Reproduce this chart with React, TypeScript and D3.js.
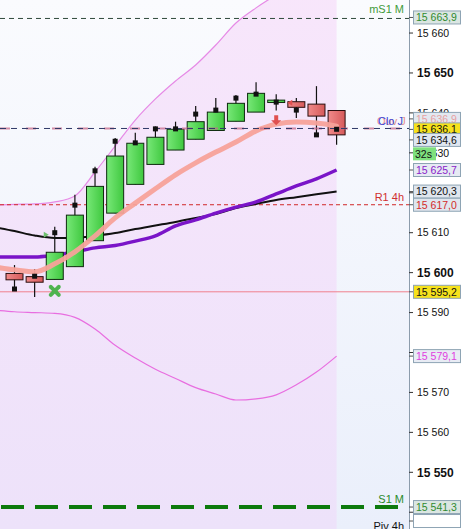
import React from "react";
import * as d3 from "d3";

const W = 462;
const H = 529;
const AXIS_X = 409;
const FONT = "'Liberation Sans', Arial, sans-serif";

// Heikin-Ashi style candles
const opens = [15599.8, 15599.0, 15598.3, 15601.5, 15608.0, 15614.9, 15622.1, 15627.1, 15630.7, 15633.4, 15635.6, 15637.9, 15640.2, 15642.6, 15642.8, 15642.2, 15640.6];
const closes = [15598.2, 15597.6, 15605.1, 15614.4, 15621.6, 15629.2, 15632.4, 15633.9, 15635.9, 15637.8, 15640.2, 15642.4, 15644.9, 15643.2, 15641.4, 15639.2, 15634.5];
const highs = [15601.9, 15600.9, 15611.5, 15619.5, 15626.5, 15633.7, 15635.0, 15636.6, 15637.8, 15641.7, 15643.7, 15644.5, 15647.7, 15644.7, 15643.7, 15646.7, 15640.6];
const lows = [15595.9, 15593.9, 15598.3, 15601.5, 15608.0, 15614.9, 15622.1, 15627.1, 15630.7, 15633.4, 15635.6, 15637.9, 15640.2, 15640.6, 15638.7, 15634.5, 15632.0];
const realCloses = [15595.9, 15599.1, 15610.0, 15616.9, 15625.5, 15632.9, 15632.5, 15636.0, 15636.0, 15639.7, 15640.7, 15643.7, 15644.7, 15642.7, 15640.7, 15634.5, 15635.9];

// indicator lines, first value is the bar before the first visible candle
const upperBand = [15616.9, 15617.1, 15617.2, 15617.7, 15619.2, 15625.2, 15631.7, 15638.2, 15643.5, 15648.0, 15652.0, 15657.0, 15662.5, 15666.3, 15669.5, 15672.0, 15674.0, 15675.8];
const lowerBand = [15590.6, 15590.2, 15590.0, 15589.8, 15588.8, 15585.9, 15581.8, 15578.6, 15575.8, 15573.5, 15571.2, 15569.6, 15568.1, 15568.4, 15569.4, 15571.9, 15575.1, 15579.1];
const maFast = [15601.4, 15600.7, 15600.2, 15602.2, 15605.2, 15609.2, 15613.7, 15617.4, 15621.0, 15624.5, 15627.5, 15630.2, 15632.7, 15635.5, 15637.2, 15637.7, 15637.5, 15636.7];
const maMid = [15603.9, 15603.9, 15603.9, 15604.4, 15605.2, 15606.2, 15606.8, 15607.9, 15609.2, 15611.7, 15613.2, 15614.9, 15616.4, 15617.7, 15619.7, 15621.7, 15623.5, 15625.7];
const maSlow = [15611.4, 15610.4, 15609.3, 15608.7, 15608.7, 15609.2, 15609.9, 15610.9, 15611.8, 15612.7, 15613.7, 15614.7, 15616.2, 15617.2, 15618.2, 15618.9, 15619.6, 15620.3];
const lineIdx = d3.range(-1, 17);

const priceTicks = d3.range(15540, 15661, 10);

// levels
const mS1M = 15663.9;
const openDay = 15636.9;
const closeDay = 15636.1;
const lastPrice = 15634.6;
const r14h = 15617.0;
const pinkLevel = 15595.2;
const s1M = 15541.3;
const piv4h = 15537.8;
const timerTick = 15630;

const labelPrices = [mS1M, openDay, closeDay, lastPrice, 15625.7, 15620.3, r14h, pinkLevel, 15579.1, s1M, piv4h];
const labelKinds = ["green", "open", "yellow", "last", "purple", "black", "red", "yellow", "magenta", "green", "blank"];

const KIND_STYLE: Record<string, { bg: string; fg: string; stroke: string }> = {
  green: { bg: "#dbe6e2", fg: "#2f8a2f", stroke: "#8ea4b4" },
  open: { bg: "#e2e8f0", fg: "#e8a0a0", stroke: "#8ea4b4" },
  yellow: { bg: "#f6e21c", fg: "#111", stroke: "#8ea4b4" },
  last: { bg: "#dfe6f0", fg: "#111", stroke: "#8ea4b4" },
  purple: { bg: "#e6eaf3", fg: "#8a22c8", stroke: "#8ea4b4" },
  black: { bg: "#e0e6ee", fg: "#111", stroke: "#8ea4b4" },
  red: { bg: "#e0e6ee", fg: "#d42a2a", stroke: "#8ea4b4" },
  magenta: { bg: "#e8ecf4", fg: "#e040e0", stroke: "#8ea4b4" },
  blank: { bg: "#ffffff", fg: "none", stroke: "#8ea4b4" },
};

const fmtPrice = (v: number, dec: number) => {
  const s = v.toFixed(dec).split(".");
  const int = s[0].replace(/\B(?=(\d{3})+(?!\d))/g, " ");
  return dec ? `${int},${s[1]}` : int;
};

const y = d3.scaleLinear().domain([15550, 15610]).range([472.3, 232.7]);
const x = d3.scaleLinear().domain([0, 16]).range([14.5, 336.6]);

const LABEL_H = 13;
const STACK = 10.5;

// spread overlapping labels around their mean, like the platform does
function layoutLabels(prices: number[]) {
  const items = prices.map((p, i) => ({ i, y: y(p) })).sort((a, b) => a.y - b.y);
  const groups: { i: number; y: number }[][] = [];
  items.forEach((it) => {
    const g = groups[groups.length - 1];
    if (g && it.y - g[g.length - 1].y < STACK) g.push(it);
    else groups.push([it]);
  });
  const out: number[] = new Array(prices.length);
  groups.forEach((g) => {
    const mean = d3.mean(g, (d) => d.y) as number;
    g.forEach((d, k) => {
      out[d.i] = mean + (k - (g.length - 1) / 2) * STACK;
    });
  });
  return out;
}

export default function App() {
  const labelY = layoutLabels(labelPrices);
  const timerY = y(timerTick) + 1;

  // tick labels fully hidden under a price box are not drawn
  const visibleTicks = priceTicks.filter(
    (t) => !labelY.some((ly) => Math.abs(ly - y(t)) < 5)
  );

  const line = d3
    .line<number>()
    .x((_, i) => x(lineIdx[i]))
    .y((d) => y(d))
    .curve(d3.curveMonotoneX);

  const fill = d3
    .area<number>()
    .x((_, i) => x(lineIdx[i]))
    .y0(H)
    .y1((d) => y(d))
    .curve(d3.curveMonotoneX);

  const bw = 17;

  return (
    <svg
      width={W}
      height={H}
      style={{ position: "absolute", left: 0, top: 0, fontFamily: FONT }}
    >
      <defs>
        <linearGradient id="bg" x1="0" y1="0" x2="0" y2="1">
          <stop offset="0" stopColor="#fafbfe" />
          <stop offset="1" stopColor="#eaeffb" />
        </linearGradient>
        <linearGradient id="pink" x1="0" y1="0" x2="0" y2="1">
          <stop offset="0" stopColor="#f8e6fb" />
          <stop offset="1" stopColor="#ede2fa" />
        </linearGradient>
        <linearGradient id="gUp" x1="0" y1="0" x2="1" y2="0">
          <stop offset="0" stopColor="#78e878" />
          <stop offset="1" stopColor="#3fc83f" />
        </linearGradient>
        <linearGradient id="gDn" x1="0" y1="0" x2="1" y2="0">
          <stop offset="0" stopColor="#f08a8a" />
          <stop offset="1" stopColor="#d65a5a" />
        </linearGradient>
        <clipPath id="plot">
          <rect x={0} y={0} width={AXIS_X} height={H} />
        </clipPath>
      </defs>

      <rect x={0} y={0} width={AXIS_X} height={H} fill="url(#bg)" />

      <g clipPath="url(#plot)">
        <path d={fill(upperBand) ?? ""} fill="url(#pink)" />
        <path d={line(upperBand) ?? ""} fill="none" stroke="#e68ae6" strokeWidth={1.2} />
        <path d={line(lowerBand) ?? ""} fill="none" stroke="#e86ee0" strokeWidth={1.2} />

        {/* horizontal levels */}
        <line x1={0} x2={AXIS_X} y1={y(mS1M) + 1} y2={y(mS1M) + 1} stroke="#2f4a3c" strokeDasharray="5,4" />
        <line x1={0} x2={AXIS_X} y1={y(r14h)} y2={y(r14h)} stroke="#d02828" strokeDasharray="4,3" />
        <line x1={0} x2={AXIS_X} y1={y(pinkLevel)} y2={y(pinkLevel)} stroke="#f0808e" strokeWidth={1} />
        <line x1={1} x2={AXIS_X} y1={y(s1M)} y2={y(s1M)} stroke="#0d7a0d" strokeWidth={4} strokeDasharray="23,11" />

        <path d={line(maSlow) ?? ""} fill="none" stroke="#111" strokeWidth={2} />
        <path d={line(maMid) ?? ""} fill="none" stroke="#7a14c8" strokeWidth={3.5} />

        {/* candles */}
        {opens.map((o, i) => {
          const c = closes[i];
          const up = c >= o;
          const top = y(Math.max(o, c));
          const h = Math.max(2, Math.abs(y(o) - y(c)));
          return (
            <g key={i}>
              <line x1={x(i)} x2={x(i)} y1={y(highs[i])} y2={y(lows[i])} stroke="#111" strokeWidth={1.2} />
              <rect
                x={x(i) - bw / 2}
                y={top}
                width={bw}
                height={h}
                fill={up ? "url(#gUp)" : "url(#gDn)"}
                stroke={up ? "#0e2a0e" : "#2a0e0e"}
                strokeWidth={1}
              />
            </g>
          );
        })}

        <path d={line(maFast) ?? ""} fill="none" stroke="#f7a29a" strokeWidth={5} strokeLinecap="round" opacity={0.95} />

        {/* close / open of the day */}
        <line x1={0} x2={AXIS_X} y1={y(closeDay)} y2={y(closeDay)} stroke="#c86a8a" strokeWidth={2} strokeDasharray="10,16" opacity={0.75} />
        <line x1={0} x2={AXIS_X} y1={y(closeDay)} y2={y(closeDay)} stroke="#2e3866" strokeDasharray="6,5" />

        {/* real close marks */}
        {realCloses.map((v, i) => (
          <rect key={i} x={x(i) - 2.5} y={y(v) - 2.5} width={5} height={5} fill="#111" />
        ))}

        {/* signal glyphs */}
        <g transform={`translate(${x(2)},${y(pinkLevel) - 1})`} stroke="#4fb34f" strokeWidth={4} strokeLinecap="round">
          <line x1={-4} y1={-4} x2={4} y2={4} />
          <line x1={-4} y1={4} x2={4} y2={-4} />
        </g>
        <path d={`M${x(2) - 11},${y(highs[2]) + 5} l5,3 l-5,3 z`} fill="#6fc06f" />
        <path d={`M${x(13) - 2},${y(highs[13]) + 21} h4 v5 h3 l-5,5 l-5,-5 h3 z`} fill="#e05050" />
        <path d={`M${x(14) - 9},${y(opens[14]) + 1} l5,-3 v6 z`} fill="#e05050" />

        {/* level texts */}
        <text x={404} y={y(mS1M) - 4} textAnchor="end" fontSize={11} fill="#3f9a3a">mS1 M</text>
        <text x={404} y={y(r14h) - 4} textAnchor="end" fontSize={11} fill="#d03030">R1 4h</text>
        <text x={404} y={y(s1M) - 4} textAnchor="end" fontSize={11} fill="#2a8a2a">S1 M</text>
        <text x={404} y={530} textAnchor="end" fontSize={11} fill="#111">Piv 4h</text>
        <text x={377} y={y(closeDay) - 3} fontSize={11} fill="#e69090">Ouv J</text>
        <text x={403} y={y(closeDay) - 3} textAnchor="end" fontSize={11} fill="#3a4ad8">Clo J</text>
      </g>

      {/* price axis */}
      <rect x={AXIS_X} y={0} width={W - AXIS_X} height={H} fill="#ffffff" />
      <line x1={AXIS_X + 0.5} x2={AXIS_X + 0.5} y1={0} y2={H} stroke="#8c9cac" />
      {priceTicks.map((t) => (
        <line key={t} x1={AXIS_X} x2={AXIS_X + 4} y1={y(t)} y2={y(t)} stroke="#333" />
      ))}
      {visibleTicks.map((t) => {
        const bold = t % 50 === 0;
        return (
          <text
            key={t}
            x={417}
            y={y(t)}
            dy="0.36em"
            fontSize={bold ? 12 : 10.5}
            fontWeight={bold ? "bold" : "normal"}
            fill="#111"
          >
            {fmtPrice(t, 0)}
          </text>
        );
      })}

      {labelPrices.map((p, i) => {
        const st = KIND_STYLE[labelKinds[i]];
        const cy = labelY[i];
        return (
          <g key={i}>
            <line x1={AXIS_X} x2={AXIS_X + 4} y1={cy} y2={cy} stroke="#555" />
            <rect x={413.5} y={cy - LABEL_H / 2} width={47} height={LABEL_H} fill={st.bg} stroke={st.stroke} />
            {st.fg !== "none" && (
              <text x={416} y={cy} dy="0.36em" fontSize={10.5} fill={st.fg}>
                {fmtPrice(p, 1)}
              </text>
            )}
          </g>
        );
      })}

      {/* bar timer, laid over the 15 630 tick label */}
      <rect x={413} y={timerY - LABEL_H / 2} width={23} height={LABEL_H} fill="#7ee07e" />
      <text x={415} y={timerY} dy="0.36em" fontSize={10.5} fill="#111">32s</text>
    </svg>
  );
}
